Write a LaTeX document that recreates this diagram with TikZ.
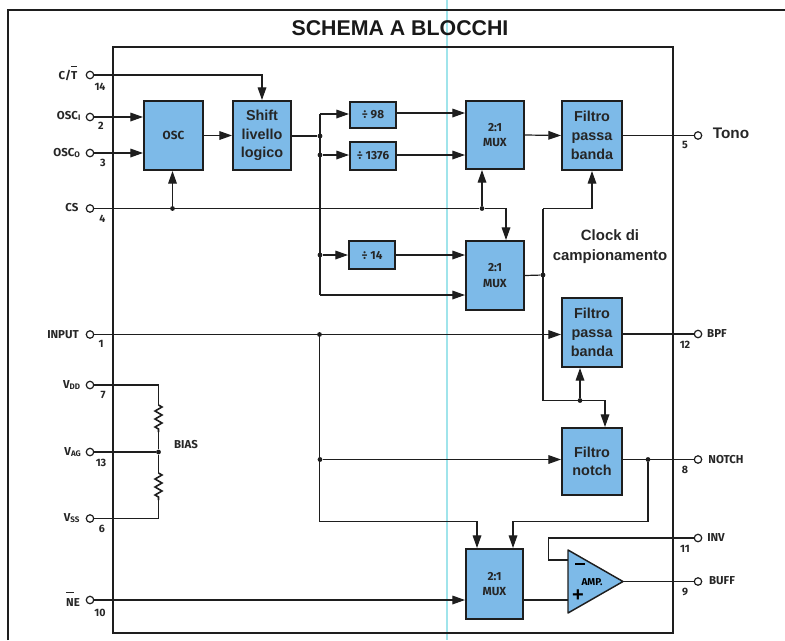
\documentclass[tikz,border=0pt]{standalone}
\usepackage{fontspec}
\setmainfont{Liberation Sans}
\newfontfamily\labfont{Fira Sans}
\usetikzlibrary{arrows.meta,calc,decorations.pathmorphing}
\definecolor{blockblue}{RGB}{125,186,232}
\definecolor{linecol}{RGB}{30,30,30}
\definecolor{foldcyan}{RGB}{160,228,235}
\newcommand{\ovbar}[1]{$\overline{\mbox{\rule{0pt}{1.02em}#1}}$}
\tikzset{
  wire/.style={draw=linecol,line width=0.9pt},
  flow/.style={wire,-{Triangle[length=9.5pt,width=6.5pt]}},
  block/.style={draw=linecol,fill=blockblue,line width=1.3pt,inner sep=0pt,align=center,font=\bfseries\fontsize{10.8}{14}\selectfont,text=black!85},
  tinyblock/.style={block,font=\labfont\bfseries\fontsize{8.8}{11.5}\selectfont},
  pin/.style={circle,draw=linecol,fill=white,line width=0.9pt,minimum size=5.6pt,inner sep=0pt},
  junction/.style={circle,fill=linecol,minimum size=3.6pt,inner sep=0pt},
  pinname/.style={font=\labfont\bfseries\fontsize{8.6}{10}\selectfont,text=black!85,inner sep=0pt},
  pinnum/.style={font=\labfont\bfseries\fontsize{8}{9}\selectfont,text=black!85,inner sep=0pt},
  smalltext/.style={font=\labfont\bfseries\fontsize{7.5}{9.6}\selectfont},
  res/.style={wire,line width=1.2pt,decorate,decoration={zigzag,segment length=6pt,amplitude=2.6pt}}
}
\begin{document}
\begin{tikzpicture}[x=0.75pt,y=-0.75pt]
\useasboundingbox (0,0) rectangle (785,640);
% fold and frames
\draw[foldcyan,line width=0.8pt] (447,0) -- (447,640);
\draw[linecol,line width=0.9pt] (8,640) -- (8,10) -- (785,10);
\draw[linecol,line width=0.9pt] (113,47) rectangle (673,633);
\node[font=\bfseries\fontsize{16}{18}\selectfont,text=black!90] (title) at (400,28) {SCHEMA A BLOCCHI};

% blocks
\newcommand{\blk}[7][block]{\node[#1,minimum width=#5*0.75pt-1.3pt,minimum height=#6*0.75pt-1.3pt] (#2) at (#3,#4) {#7};}
\blk[tinyblock]{osc}{173.5}{135.5}{61}{71}{OSC}
\blk{shift}{262}{135.5}{60}{71}{Shift\\livello\\logico}
\blk[tinyblock]{d98}{373}{115}{48}{28}{÷ 98}
\blk[tinyblock]{d1376}{373}{156}{48}{30}{÷ 1376}
\blk[tinyblock]{d14}{372}{255}{48}{30}{÷ 14}
\blk[tinyblock]{muxa}{495}{135}{60}{70}{2:1\\MUX}
\blk{fa}{592}{135.5}{62}{71}{Filtro\\passa\\banda}
\blk[tinyblock]{muxb}{495}{275.5}{60}{71}{2:1\\MUX}
\blk{fb}{592}{332.5}{62}{71}{Filtro\\passa\\banda}
\blk{fn}{592}{461.5}{62}{69}{Filtro\\notch}
\blk[tinyblock]{muxc}{494.5}{584}{59}{72}{2:1\\MUX}
\coordinate (ampm) at (568,560);
\coordinate (ampp) at (568,600);
\coordinate (ampo) at (623,581.5);
\draw[draw=linecol,fill=blockblue,line width=1.1pt,line join=round] (568,550) -- (ampo) -- (568,613) -- cycle;
\node[inner sep=0pt] (ampminus) at (580,564) {\rule{7.5pt}{1.1pt}};
\node[font=\bfseries\fontsize{15}{15}\selectfont,inner sep=0pt] (ampplus) at (578,596) {+};
\node[smalltext,inner sep=0pt] (amptext) at (592,582) {AMP.};

% pins
\foreach \n/\y in {p14/75,p2/117,p3/153,p4/208.5,p1/334.5,p7/385,p13/452,p6/518.5,p10/600}
  \node[pin] (\n) at (90,\y) {};
\foreach \n/\y in {p5/135.5,p12/334,p8/459.5,p11/538,p9/581.5}
  \node[pin] (\n) at (698,\y) {};

% pin names
\node[pinname] (l14) at (68,73) {C/\ovbar{T}};
\node[pinname] (l2) at (69,116) {OSC\textsubscript{I}};
\node[pinname] (l3) at (67,153) {OSC\textsubscript{O}};
\node[pinname] (l4) at (72,208) {CS};
\node[pinname] (l1) at (63,335) {INPUT};
\node[pinname] (l7) at (72,385) {V\textsubscript{DD}};
\node[pinname] (l13) at (73,452) {V\textsubscript{AG}};
\node[pinname] (l6) at (72,518) {V\textsubscript{SS}};
\node[pinname] (l10) at (73,599) {\ovbar{N}E};
\node[font=\bfseries\fontsize{11.5}{14}\selectfont,text=black!85,inner sep=0pt] (lton) at (731,133) {Tono};
\node[pinname] (l12) at (717,334) {BPF};
\node[pinname] (l8) at (726,459.5) {NOTCH};
\node[pinname] (l11) at (716,538) {INV};
\node[pinname] (l9) at (722,581) {BUFF};
\node[pinname] (lbias) at (186,445) {BIAS};
\node[font=\bfseries\fontsize{11.2}{15}\selectfont,text=black!85,align=center,inner sep=0pt] (lclock) at (610,247) {Clock di\\campionamento};

% pin numbers
\foreach \n/\x/\y/\t in {n14/100/87/14,n2/101/126/2,n3/103/163/3,n4/102.5/219/4,n1/101/344/1,n7/103/395/7,n13/101/463/13,n6/102/529/6,n10/100/613/10,n5/685/145/5,n12/685/345/12,n8/685/470/8,n11/685/549/11,n9/685/592/9}
  \node[pinnum] (\n) at (\x,\y) {\t};

% junctions
\node[junction] (jcs) at (172.5,208.5) {};
\node[junction] (jcsb) at (482,208.5) {};
\node[junction] (js) at (320,136) {};
\node[junction] (j1376) at (320,155) {};
\node[junction] (j14) at (320,255) {};
\node[junction] (jclk) at (543,275) {};
\node[junction] (jclkb) at (580,400.5) {};
\node[junction] (jin) at (319.5,334.5) {};
\node[junction] (jinb) at (320,459.5) {};
\node[junction] (jn) at (648,459.5) {};
\node[junction] (jvag) at (158.5,452) {};

% corner coordinates
\coordinate (c98) at (320,114);
\coordinate (cmb) at (320,295);
\coordinate (cclkt) at (543,208.5);
\coordinate (cclkb) at (543,400.5);
\coordinate (cinb) at (319.5,521.5);
\coordinate (cnb) at (648,521.5);

% connectors
\draw[flow] (p14) -| (shift.north);
\draw[flow] (p2) -- (p2 -| osc.west);
\draw[flow] (p3) -- (p3 -| osc.west);
\draw[flow] (osc.east) -- (shift.west);
\draw[wire] (p4) -- (jcsb);
\draw[flow] (jcs) -- (osc.south -| jcs);
\draw[flow] (jcsb) -- (muxa.south -| jcsb);
\draw[flow] (jcsb) -| (506,240);
\draw[wire] (shift.east |- js) -- (js);
\draw[wire] (c98) -- (cmb);
\draw[flow] (c98) -- (c98 -| d98.west);
\draw[flow] (j1376) -- (j1376 -| d1376.west);
\draw[flow] (j14) -- (j14 -| d14.west);
\draw[flow] (cmb) -- (cmb -| muxb.west);
\draw[flow] (d98.east |- 0,113) -- (muxa.west |- 0,113);
\draw[flow] (d1376.east |- 0,155) -- (muxa.west |- 0,155);
\draw[flow] (d14.east) -- (d14.east -| muxb.west);
\draw[flow] (muxa.east) -- (fa.west);
\draw[wire] (fa.east) -- (p5);
\draw[wire] (muxb.east) -- (jclk);
\draw[wire] (cclkt) -- (cclkb);
\draw[flow] (cclkt) -| (fa.south);
\draw[flow] (jclkb) -- (jclkb |- fb.south);
\draw[flow] (cclkb) -| (605,427);
\draw[flow] (p1) -- (p1 -| fb.west);
\draw[wire] (fb.east |- p12) -- (p12);
\draw[wire] (jin) -- (cinb);
\draw[flow] (jinb) -- (jinb -| fn.west);
\draw[flow] (cinb) -| (477,548);
\draw[wire] (fn.east |- p8) -- (p8);
\draw[wire] (jn) -- (cnb);
\draw[flow] (cnb) -| (513,548);
\draw[wire] (p11) -| (548.5,560) -- (ampm);
\draw[wire] (ampo) -- (p9);
\draw[wire] (muxc.east |- ampp) -- (ampp);
\draw[flow] (p10) -- (p10 -| muxc.west);

% bias divider
\coordinate (r1t) at (158.5,405);
\coordinate (r1b) at (158.5,432);
\coordinate (r2t) at (158.5,473);
\coordinate (r2b) at (158.5,500);
\draw[wire] (p7) -| (r1t);
\draw[res] (r1t) -- (r1b);
\draw[wire] (r1b) -- (jvag);
\draw[wire] (jvag) -- (r2t);
\draw[res] (r2t) -- (r2b);
\draw[wire] (r2b) |- (p6);
\draw[wire] (p13) -- (jvag);
\end{tikzpicture}
\end{document}
